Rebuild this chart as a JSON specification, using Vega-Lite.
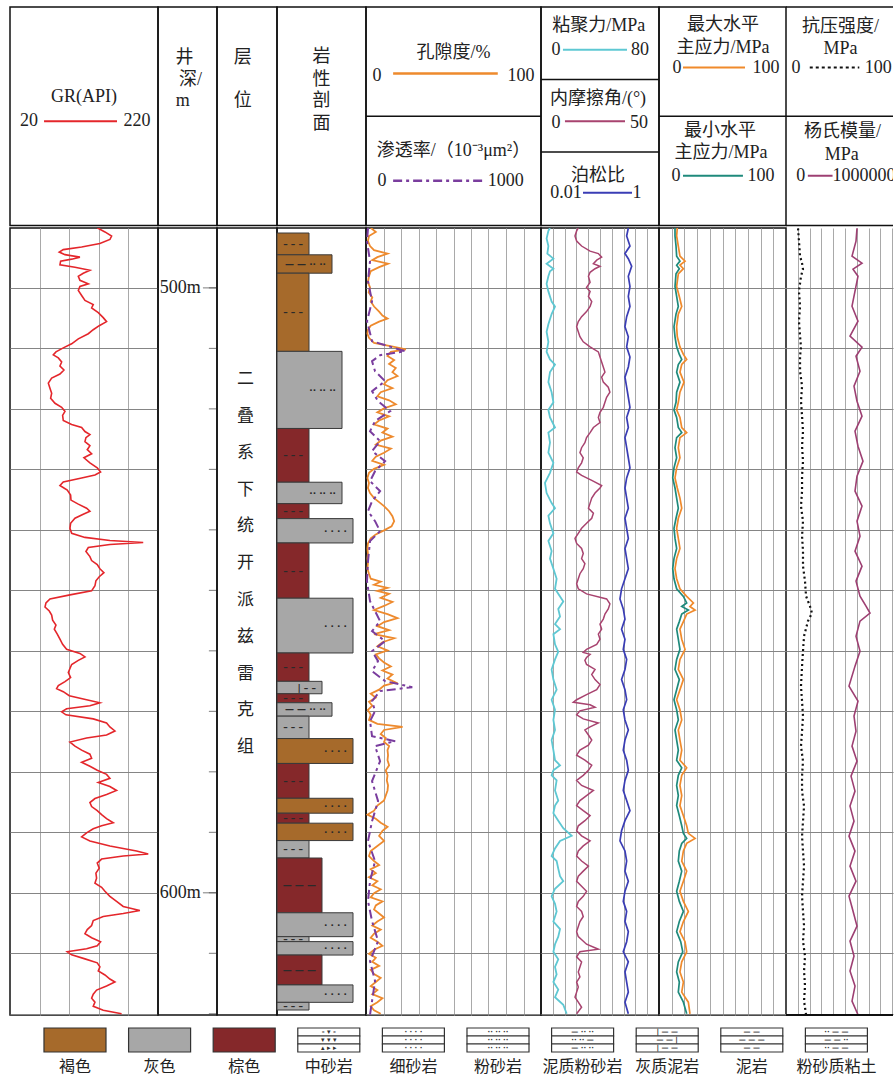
{
"$schema": "https://vega.github.io/schema/vega-lite/v6.json",
"background": "white",
"padding": {"left": 9, "top": 6, "right": 0, "bottom": 3},
"spacing": 0,
"resolve": {"scale": {"color": "independent", "strokeDash": "independent"}},
"config": {
  "font": "Liberation Serif, Noto Sans CJK SC",
  "view": {"stroke": "#111111", "strokeWidth": 1.5},
  "axisX": {"grid": true, "gridColor": "#a9a9a9", "gridWidth": 1, "labels": false, "ticks": false, "domain": false},
  "axisY": {"grid": true, "gridColor": "#858585", "gridWidth": 1, "labels": false, "ticks": false, "domain": false},
  "text": {"font": "Liberation Serif, Noto Sans CJK SC", "fontSize": 18, "color": "#222222"}
},
"datasets": {
  "hdrText": [
    {"col":"gr","text":"GR(API)","x":50,"y":91},
    {"col":"gr","text":"20","x":12.8,"y":115},
    {"col":"gr","text":"220","x":85.8,"y":115},
    {"col":"dep","text":"井","x":45,"y":51},
    {"col":"dep","text":"深/","x":55,"y":73},
    {"col":"dep","text":"m","x":42,"y":95},
    {"col":"zone","text":"层","x":43,"y":51},
    {"col":"zone","text":"位","x":43,"y":95},
    {"col":"lith","text":"岩","x":50,"y":50},
    {"col":"lith","text":"性","x":50,"y":73},
    {"col":"lith","text":"剖","x":50,"y":95},
    {"col":"lith","text":"面","x":50,"y":118},
    {"col":"por","text":"孔隙度/%","x":50,"y":46},
    {"col":"por","text":"0","x":6.3,"y":69},
    {"col":"por","text":"100","x":88.5,"y":69},
    {"col":"por","text":"渗透率/（10⁻³μm²）","x":50,"y":145},
    {"col":"por","text":"0","x":9.2,"y":175},
    {"col":"por","text":"1000","x":79.9,"y":175},
    {"col":"coh","text":"粘聚力/MPa","x":49,"y":19},
    {"col":"coh","text":"0","x":12.7,"y":43},
    {"col":"coh","text":"80","x":83.9,"y":43},
    {"col":"coh","text":"内摩擦角/(°)","x":48.3,"y":93},
    {"col":"coh","text":"0","x":12.7,"y":117},
    {"col":"coh","text":"50","x":83,"y":117},
    {"col":"coh","text":"泊松比","x":48.3,"y":170},
    {"col":"coh","text":"0.01","x":21.2,"y":187},
    {"col":"coh","text":"1","x":81.4,"y":187},
    {"col":"str","text":"最大水平","x":50.4,"y":18},
    {"col":"str","text":"主应力/MPa","x":50.4,"y":41},
    {"col":"str","text":"0","x":14.2,"y":61},
    {"col":"str","text":"100","x":84.3,"y":61},
    {"col":"str","text":"最小水平","x":48,"y":125},
    {"col":"str","text":"主应力/MPa","x":48.8,"y":147},
    {"col":"str","text":"0","x":13.4,"y":170},
    {"col":"str","text":"100","x":80.3,"y":170},
    {"col":"ucs","text":"抗压强度/","x":50.9,"y":20},
    {"col":"ucs","text":"MPa","x":50.9,"y":42},
    {"col":"ucs","text":"0","x":9.3,"y":61},
    {"col":"ucs","text":"100","x":86.1,"y":61},
    {"col":"ucs","text":"杨氏模量/","x":52.8,"y":126},
    {"col":"ucs","text":"MPa","x":52,"y":149},
    {"col":"ucs","text":"0","x":13.9,"y":170},
    {"col":"ucs","text":"1000000","x":72.9,"y":170}
  ],
  "hdrLines": [
    {"col":"gr","curve":"GR","x":23,"x2":72.3,"y":115},
    {"col":"por","curve":"POR","x":15.5,"x2":75.3,"y":67},
    {"col":"por","curve":"PERM","x":15.5,"x2":67.2,"y":175},
    {"col":"coh","curve":"COH","x":18.6,"x2":72.9,"y":43},
    {"col":"coh","curve":"FRIC","x":20.3,"x2":71.2,"y":115},
    {"col":"coh","curve":"PR","x":35.6,"x2":77.1,"y":187},
    {"col":"str","curve":"SHMAX","x":18.9,"x2":67.7,"y":61},
    {"col":"str","curve":"SHMIN","x":18.9,"x2":66.1,"y":170},
    {"col":"ucs","curve":"UCS","x":22.2,"x2":68.5,"y":61},
    {"col":"ucs","curve":"YM","x":20.4,"x2":43.5,"y":170}
  ],
  "hdrDiv": [
    {"col":"por","y":110},{"col":"coh","y":73},{"col":"coh","y":146},{"col":"str","y":110},{"col":"ucs","y":110},{"col":"ucs","y":0},{"col":"ucs","y":220}
  ],
  "depthTicks": [{"depth":500},{"depth":510},{"depth":520},{"depth":530},{"depth":540},{"depth":550},{"depth":560},{"depth":570},{"depth":580},{"depth":590},{"depth":600},{"depth":610},{"depth":620}],
  "depthLabels": [{"depth":500,"label":"500m"},{"depth":600,"label":"600m"}],
  "formation": [{"name":"二\n叠\n系\n下\n统\n开\n派\n兹\n雷\n克\n组"}],
  "lithTypes": [
    {"lith":"泥岩","grain":3.2,"sym":"–  –  –"},
    {"lith":"灰质泥岩","grain":4.5,"sym":"|   –   –"},
    {"lith":"粉砂质粘土","grain":4.5,"sym":"—   —   —"},
    {"lith":"泥质粉砂岩","grain":5.5,"sym":"—  —  ··  ··"},
    {"lith":"粉砂岩","grain":6.5,"sym":"··     ··     ··"},
    {"lith":"细砂岩","grain":7.6,"sym":"·      ·      ·      ·"}
  ],
  "lith": [
    {"top":490.1,"bottom":493.75,"mid":491.93,"color":"褐色","lith":"泥岩"},
    {"top":493.75,"bottom":496.83,"mid":495.29,"color":"褐色","lith":"泥质粉砂岩"},
    {"top":496.83,"bottom":509.92,"mid":503.38,"color":"褐色","lith":"泥岩"},
    {"top":509.92,"bottom":522.83,"mid":516.38,"color":"灰色","lith":"粉砂岩"},
    {"top":522.83,"bottom":531.83,"mid":527.33,"color":"棕色","lith":"泥岩"},
    {"top":531.83,"bottom":535.42,"mid":533.63,"color":"灰色","lith":"粉砂岩"},
    {"top":535.42,"bottom":537.92,"mid":536.67,"color":"棕色","lith":"泥岩"},
    {"top":537.92,"bottom":542.0,"mid":539.96,"color":"灰色","lith":"细砂岩"},
    {"top":542.0,"bottom":551.25,"mid":546.63,"color":"棕色","lith":"泥岩"},
    {"top":551.25,"bottom":560.42,"mid":555.84,"color":"灰色","lith":"细砂岩"},
    {"top":560.42,"bottom":565.17,"mid":562.8,"color":"棕色","lith":"泥岩"},
    {"top":565.17,"bottom":567.25,"mid":566.21,"color":"灰色","lith":"灰质泥岩"},
    {"top":567.25,"bottom":568.75,"mid":568.0,"color":"棕色","lith":"泥岩"},
    {"top":568.75,"bottom":571.0,"mid":569.88,"color":"灰色","lith":"泥质粉砂岩"},
    {"top":571.0,"bottom":574.75,"mid":572.88,"color":"灰色","lith":"泥岩"},
    {"top":574.75,"bottom":578.92,"mid":576.84,"color":"褐色","lith":"细砂岩"},
    {"top":578.92,"bottom":584.75,"mid":581.84,"color":"棕色","lith":"泥岩"},
    {"top":584.75,"bottom":587.25,"mid":586.0,"color":"褐色","lith":"细砂岩"},
    {"top":587.25,"bottom":588.92,"mid":588.09,"color":"棕色","lith":"泥岩"},
    {"top":588.92,"bottom":591.83,"mid":590.38,"color":"褐色","lith":"细砂岩"},
    {"top":591.83,"bottom":594.75,"mid":593.29,"color":"灰色","lith":"泥岩"},
    {"top":594.75,"bottom":603.92,"mid":599.34,"color":"棕色","lith":"粉砂质粘土"},
    {"top":603.92,"bottom":607.92,"mid":605.92,"color":"灰色","lith":"细砂岩"},
    {"top":607.92,"bottom":608.75,"mid":608.34,"color":"灰色","lith":"泥岩"},
    {"top":608.75,"bottom":611.0,"mid":609.88,"color":"灰色","lith":"细砂岩"},
    {"top":611.0,"bottom":616.0,"mid":613.5,"color":"棕色","lith":"粉砂质粘土"},
    {"top":616.0,"bottom":618.92,"mid":617.46,"color":"灰色","lith":"细砂岩"},
    {"top":618.92,"bottom":620.2,"mid":619.56,"color":"灰色","lith":"泥岩"}
  ],
  "gr": [
    {"depth":490.08,"value":137.9},{"depth":490.75,"value":148.3},{"depth":491.42,"value":157.3},{"depth":492.0,"value":155},{"depth":492.67,"value":141.5},{"depth":493.25,"value":116.8},{"depth":493.67,"value":92},{"depth":494.08,"value":86.6},{"depth":494.5,"value":94.3},{"depth":494.92,"value":114.5},{"depth":495.25,"value":103.3},{"depth":495.58,"value":88.4},{"depth":496.17,"value":87.5},{"depth":496.58,"value":107.8},{"depth":497.08,"value":128},{"depth":497.58,"value":119},{"depth":498.08,"value":112.3},{"depth":498.75,"value":114.5},{"depth":499.33,"value":125.8},{"depth":499.75,"value":114.5},{"depth":500.42,"value":112.3},{"depth":501.25,"value":116.8},{"depth":502.08,"value":121.3},{"depth":502.75,"value":132.5},{"depth":503.33,"value":130.3},{"depth":504.08,"value":139.3},{"depth":504.92,"value":146},{"depth":505.58,"value":150.5},{"depth":506.25,"value":140.6},{"depth":506.92,"value":132.5},{"depth":507.58,"value":125.8},{"depth":508.42,"value":112.3},{"depth":509.25,"value":103.3},{"depth":509.92,"value":92},{"depth":510.58,"value":82.1},{"depth":511.08,"value":78.5},{"depth":511.58,"value":85.3},{"depth":512.25,"value":89.8},{"depth":512.92,"value":87.5},{"depth":513.58,"value":92.9},{"depth":514.25,"value":87.5},{"depth":514.92,"value":76.3},{"depth":515.75,"value":71.8},{"depth":516.58,"value":74},{"depth":517.42,"value":76.3},{"depth":518.25,"value":74.9},{"depth":519.08,"value":80.8},{"depth":519.75,"value":89.8},{"depth":520.42,"value":94.3},{"depth":521.08,"value":91.1},{"depth":521.92,"value":92},{"depth":522.58,"value":103.3},{"depth":523.08,"value":116.8},{"depth":523.75,"value":121.3},{"depth":524.25,"value":128},{"depth":524.75,"value":122.6},{"depth":525.42,"value":121.3},{"depth":526.08,"value":128},{"depth":526.75,"value":124.4},{"depth":527.42,"value":130.3},{"depth":528.08,"value":119.9},{"depth":528.92,"value":128},{"depth":529.75,"value":137.9},{"depth":530.42,"value":142.4},{"depth":530.92,"value":134.8},{"depth":531.42,"value":116.8},{"depth":532.08,"value":92},{"depth":532.67,"value":87.5},{"depth":533.42,"value":97.4},{"depth":534.25,"value":101.9},{"depth":535.08,"value":102.4},{"depth":535.75,"value":112.3},{"depth":536.42,"value":123.5},{"depth":536.92,"value":128},{"depth":537.42,"value":119},{"depth":538.08,"value":107.8},{"depth":538.92,"value":101.9},{"depth":539.75,"value":101},{"depth":540.58,"value":103.3},{"depth":541.25,"value":121.3},{"depth":541.75,"value":155},{"depth":542.08,"value":200},{"depth":542.42,"value":155},{"depth":542.92,"value":125.8},{"depth":543.58,"value":122.6},{"depth":544.42,"value":128},{"depth":545.08,"value":130.3},{"depth":545.75,"value":137.9},{"depth":546.42,"value":141.5},{"depth":547.08,"value":146.9},{"depth":547.75,"value":140.6},{"depth":548.42,"value":136.1},{"depth":549.25,"value":134.8},{"depth":550.08,"value":130.3},{"depth":550.75,"value":101},{"depth":551.42,"value":74},{"depth":552.08,"value":68.6},{"depth":552.75,"value":67.3},{"depth":553.42,"value":73.1},{"depth":554.08,"value":76.3},{"depth":554.92,"value":77.6},{"depth":555.75,"value":82.1},{"depth":556.42,"value":79.9},{"depth":557.25,"value":83.9},{"depth":558.08,"value":87.5},{"depth":558.92,"value":91.1},{"depth":559.75,"value":96.5},{"depth":560.42,"value":114.5},{"depth":561.0,"value":121.3},{"depth":561.58,"value":112.3},{"depth":562.25,"value":103.3},{"depth":562.92,"value":101},{"depth":563.58,"value":98.8},{"depth":564.42,"value":101.9},{"depth":565.08,"value":94.3},{"depth":565.75,"value":85.3},{"depth":566.25,"value":83},{"depth":566.75,"value":92},{"depth":567.42,"value":100.1},{"depth":568.08,"value":123.5},{"depth":568.58,"value":141.5},{"depth":569.08,"value":128},{"depth":569.58,"value":96.5},{"depth":570.08,"value":89.8},{"depth":570.58,"value":95.6},{"depth":571.25,"value":132.5},{"depth":571.92,"value":150.5},{"depth":572.58,"value":155},{"depth":573.25,"value":161.8},{"depth":573.92,"value":150.5},{"depth":574.42,"value":123.5},{"depth":575.08,"value":101},{"depth":575.75,"value":107.8},{"depth":576.42,"value":116.8},{"depth":577.08,"value":128},{"depth":577.75,"value":130.3},{"depth":578.42,"value":116.8},{"depth":579.08,"value":128},{"depth":579.75,"value":137.9},{"depth":580.42,"value":150.5},{"depth":581.08,"value":155},{"depth":581.75,"value":139.3},{"depth":582.42,"value":155},{"depth":583.08,"value":164},{"depth":583.75,"value":150.5},{"depth":584.42,"value":134.8},{"depth":585.08,"value":128},{"depth":585.75,"value":130.3},{"depth":586.42,"value":137.9},{"depth":587.08,"value":143.8},{"depth":587.75,"value":150.5},{"depth":588.42,"value":159.5},{"depth":588.92,"value":143.8},{"depth":589.42,"value":132.5},{"depth":590.08,"value":123.5},{"depth":590.75,"value":116.8},{"depth":591.42,"value":128},{"depth":592.25,"value":155},{"depth":593.08,"value":191},{"depth":593.58,"value":206.8},{"depth":593.92,"value":173},{"depth":594.42,"value":143.8},{"depth":595.08,"value":137.9},{"depth":595.92,"value":140.6},{"depth":596.75,"value":136.1},{"depth":597.58,"value":137},{"depth":598.42,"value":134.8},{"depth":599.08,"value":143.8},{"depth":599.75,"value":148.3},{"depth":600.58,"value":155},{"depth":601.42,"value":164},{"depth":602.25,"value":173},{"depth":602.92,"value":195.5},{"depth":603.42,"value":173},{"depth":603.92,"value":146},{"depth":604.58,"value":132.5},{"depth":605.42,"value":130.3},{"depth":606.08,"value":124.4},{"depth":606.75,"value":121.3},{"depth":607.42,"value":130.3},{"depth":608.08,"value":142.4},{"depth":608.75,"value":137.9},{"depth":609.25,"value":123.5},{"depth":609.75,"value":97.4},{"depth":610.25,"value":103.3},{"depth":610.92,"value":121.3},{"depth":611.58,"value":137.9},{"depth":612.25,"value":141.5},{"depth":612.92,"value":139.3},{"depth":613.58,"value":148.3},{"depth":614.25,"value":155},{"depth":614.75,"value":161.8},{"depth":615.42,"value":150.5},{"depth":616.08,"value":137},{"depth":616.75,"value":132.5},{"depth":617.42,"value":130.3},{"depth":618.08,"value":134.8},{"depth":618.75,"value":132.5},{"depth":619.42,"value":146},{"depth":620.0,"value":170.8}
  ],
  "por": [
    {"depth":490.08,"value":2.7},{"depth":490.75,"value":5.6},{"depth":491.42,"value":1.7},{"depth":492.25,"value":1.1},{"depth":493.08,"value":2.3},{"depth":493.75,"value":4.6},{"depth":494.33,"value":12.3},{"depth":494.92,"value":6.5},{"depth":495.42,"value":3.6},{"depth":496.0,"value":12.6},{"depth":496.58,"value":7.5},{"depth":497.25,"value":2.7},{"depth":498.08,"value":1.7},{"depth":499.08,"value":1.1},{"depth":499.92,"value":2.3},{"depth":500.75,"value":1.5},{"depth":501.58,"value":3.6},{"depth":502.25,"value":2.7},{"depth":503.08,"value":4.6},{"depth":503.92,"value":7.5},{"depth":504.58,"value":9.4},{"depth":505.08,"value":12.3},{"depth":505.58,"value":7.5},{"depth":506.25,"value":2.7},{"depth":506.92,"value":1.1},{"depth":507.58,"value":0.8},{"depth":508.25,"value":1.7},{"depth":509.08,"value":4.6},{"depth":509.75,"value":16.1},{"depth":510.17,"value":22.8},{"depth":510.58,"value":14.2},{"depth":511.25,"value":12.3},{"depth":511.92,"value":16.1},{"depth":512.58,"value":13.2},{"depth":513.25,"value":17.0},{"depth":513.92,"value":15.1},{"depth":514.58,"value":18.0},{"depth":515.25,"value":12.3},{"depth":515.92,"value":10.3},{"depth":516.58,"value":15.1},{"depth":517.25,"value":8.4},{"depth":517.92,"value":6.5},{"depth":518.58,"value":13.2},{"depth":519.25,"value":17.0},{"depth":519.92,"value":10.3},{"depth":520.58,"value":6.5},{"depth":521.25,"value":13.2},{"depth":521.92,"value":7.5},{"depth":522.58,"value":4.6},{"depth":523.25,"value":12.3},{"depth":523.92,"value":9.4},{"depth":524.58,"value":15.1},{"depth":525.25,"value":8.4},{"depth":525.92,"value":5.6},{"depth":526.58,"value":14.2},{"depth":527.25,"value":10.3},{"depth":527.92,"value":5.6},{"depth":528.58,"value":3.6},{"depth":529.25,"value":10.3},{"depth":529.92,"value":4.6},{"depth":530.58,"value":1.7},{"depth":531.42,"value":0.8},{"depth":532.25,"value":1.7},{"depth":533.08,"value":1.1},{"depth":533.92,"value":2.3},{"depth":534.75,"value":4.6},{"depth":535.42,"value":7.5},{"depth":536.08,"value":10.3},{"depth":536.92,"value":13.2},{"depth":537.75,"value":15.1},{"depth":538.58,"value":16.1},{"depth":539.42,"value":14.6},{"depth":540.08,"value":10.3},{"depth":540.75,"value":5.6},{"depth":541.42,"value":2.7},{"depth":542.25,"value":1.1},{"depth":543.08,"value":0.8},{"depth":543.92,"value":1.1},{"depth":544.75,"value":0.8},{"depth":545.58,"value":1.1},{"depth":546.42,"value":0.8},{"depth":547.25,"value":1.7},{"depth":548.08,"value":2.7},{"depth":548.58,"value":8.4},{"depth":549.08,"value":4.6},{"depth":549.58,"value":12.3},{"depth":550.08,"value":6.5},{"depth":550.58,"value":13.2},{"depth":551.25,"value":8.4},{"depth":551.92,"value":15.1},{"depth":552.58,"value":10.3},{"depth":553.25,"value":4.6},{"depth":553.92,"value":12.3},{"depth":554.58,"value":18.0},{"depth":555.25,"value":10.3},{"depth":555.92,"value":6.5},{"depth":556.58,"value":13.2},{"depth":557.25,"value":4.6},{"depth":557.92,"value":16.1},{"depth":558.58,"value":9.4},{"depth":559.25,"value":6.5},{"depth":559.92,"value":12.3},{"depth":560.58,"value":5.6},{"depth":561.25,"value":7.5},{"depth":561.92,"value":10.3},{"depth":562.58,"value":14.2},{"depth":563.25,"value":9.4},{"depth":563.92,"value":15.1},{"depth":564.58,"value":12.3},{"depth":565.25,"value":17.0},{"depth":565.75,"value":10.3},{"depth":566.42,"value":7.5},{"depth":567.08,"value":2.7},{"depth":567.75,"value":5.6},{"depth":568.42,"value":1.7},{"depth":569.08,"value":3.6},{"depth":569.75,"value":1.1},{"depth":570.58,"value":2.7},{"depth":571.42,"value":1.7},{"depth":572.08,"value":6.5},{"depth":572.58,"value":20.9},{"depth":573.08,"value":10.3},{"depth":573.75,"value":8.4},{"depth":574.42,"value":11.3},{"depth":575.08,"value":10.3},{"depth":575.75,"value":13.2},{"depth":576.42,"value":12.3},{"depth":577.25,"value":12.6},{"depth":578.08,"value":12.3},{"depth":578.92,"value":13.2},{"depth":579.75,"value":11.3},{"depth":580.58,"value":12.3},{"depth":581.42,"value":11.9},{"depth":582.25,"value":12.6},{"depth":583.08,"value":12.3},{"depth":583.92,"value":11.3},{"depth":584.75,"value":10.3},{"depth":585.58,"value":6.5},{"depth":586.42,"value":4.6},{"depth":587.08,"value":0.8},{"depth":587.75,"value":5.6},{"depth":588.42,"value":8.4},{"depth":589.08,"value":12.3},{"depth":589.75,"value":9.4},{"depth":590.58,"value":7.5},{"depth":591.42,"value":10.3},{"depth":592.25,"value":6.5},{"depth":593.08,"value":2.7},{"depth":593.92,"value":1.7},{"depth":594.75,"value":4.6},{"depth":595.42,"value":7.5},{"depth":596.08,"value":2.7},{"depth":596.75,"value":5.6},{"depth":597.42,"value":1.7},{"depth":598.08,"value":6.5},{"depth":598.75,"value":3.6},{"depth":599.42,"value":8.4},{"depth":600.08,"value":4.6},{"depth":600.75,"value":2.7},{"depth":601.42,"value":9.4},{"depth":602.08,"value":5.6},{"depth":602.75,"value":4.6},{"depth":603.42,"value":7.5},{"depth":604.08,"value":10.3},{"depth":604.75,"value":6.5},{"depth":605.42,"value":3.6},{"depth":606.08,"value":8.4},{"depth":606.75,"value":4.6},{"depth":607.42,"value":2.7},{"depth":608.08,"value":6.5},{"depth":608.75,"value":9.4},{"depth":609.42,"value":4.6},{"depth":610.08,"value":1.7},{"depth":610.75,"value":5.6},{"depth":611.42,"value":3.6},{"depth":612.08,"value":7.5},{"depth":612.75,"value":2.7},{"depth":613.42,"value":4.6},{"depth":614.08,"value":8.4},{"depth":614.75,"value":5.6},{"depth":615.42,"value":2.7},{"depth":616.08,"value":6.5},{"depth":616.75,"value":3.6},{"depth":617.42,"value":9.4},{"depth":618.08,"value":6.5},{"depth":618.75,"value":2.7},{"depth":619.42,"value":4.6},{"depth":620.0,"value":8.4}
  ],
  "perm": [
    {"depth":490.13,"value":11.5},{"depth":492.28,"value":5.7},{"depth":495.59,"value":23},{"depth":498.89,"value":11.5},{"depth":502.2,"value":34.5},{"depth":505.5,"value":5.7},{"depth":508.81,"value":34.5},{"depth":509.97,"value":166.7},{"depth":510.46,"value":224.1},{"depth":511.12,"value":80.5},{"depth":512.12,"value":34.5},{"depth":513.77,"value":51.7},{"depth":515.42,"value":109.2},{"depth":517.07,"value":34.5},{"depth":518.73,"value":69},{"depth":520.38,"value":137.9},{"depth":522.03,"value":51.7},{"depth":523.69,"value":23},{"depth":525.34,"value":80.5},{"depth":526.99,"value":34.5},{"depth":528.64,"value":109.2},{"depth":530.3,"value":51.7},{"depth":531.95,"value":23},{"depth":533.6,"value":80.5},{"depth":535.26,"value":34.5},{"depth":536.91,"value":11.5},{"depth":538.56,"value":51.7},{"depth":540.21,"value":80.5},{"depth":541.87,"value":23},{"depth":545.17,"value":11.5},{"depth":548.48,"value":5.7},{"depth":551.79,"value":23},{"depth":553.44,"value":51.7},{"depth":555.09,"value":80.5},{"depth":556.74,"value":34.5},{"depth":558.4,"value":109.2},{"depth":560.05,"value":34.5},{"depth":561.7,"value":69},{"depth":563.36,"value":34.5},{"depth":565.01,"value":109.2},{"depth":566.0,"value":264.4},{"depth":566.66,"value":80.5},{"depth":568.31,"value":34.5},{"depth":569.97,"value":51.7},{"depth":571.62,"value":23},{"depth":574.1,"value":34.5},{"depth":574.93,"value":166.7},{"depth":575.75,"value":51.7},{"depth":578.23,"value":80.5},{"depth":581.54,"value":34.5},{"depth":584.84,"value":69},{"depth":588.15,"value":34.5},{"depth":591.45,"value":11.5},{"depth":594.76,"value":51.7},{"depth":598.07,"value":23},{"depth":601.37,"value":11.5},{"depth":604.68,"value":34.5},{"depth":607.98,"value":69},{"depth":611.29,"value":23},{"depth":614.6,"value":51.7},{"depth":617.9,"value":34.5},{"depth":620.15,"value":23}
  ],
  "coh": [
    {"depth":490.1,"value":6.1},{"depth":490.58,"value":5.0},{"depth":491.83,"value":3.8},{"depth":493.08,"value":5.0},{"depth":494.33,"value":4.3},{"depth":495.17,"value":8.4},{"depth":496.0,"value":3.8},{"depth":496.83,"value":8.4},{"depth":497.25,"value":6.1},{"depth":498.08,"value":5.0},{"depth":499.33,"value":3.8},{"depth":500.58,"value":5.0},{"depth":502.25,"value":7.2},{"depth":503.08,"value":9.5},{"depth":504.33,"value":7.2},{"depth":506.0,"value":5.0},{"depth":507.25,"value":3.8},{"depth":508.92,"value":5.0},{"depth":510.58,"value":3.8},{"depth":511.83,"value":6.1},{"depth":512.67,"value":9.5},{"depth":513.92,"value":6.1},{"depth":515.58,"value":5.0},{"depth":517.25,"value":7.2},{"depth":518.92,"value":8.4},{"depth":520.17,"value":5.0},{"depth":521.42,"value":6.1},{"depth":523.08,"value":9.5},{"depth":523.92,"value":5.0},{"depth":525.58,"value":6.1},{"depth":527.25,"value":5.0},{"depth":528.92,"value":8.4},{"depth":530.58,"value":6.1},{"depth":532.25,"value":2.7},{"depth":533.92,"value":3.8},{"depth":535.58,"value":7.2},{"depth":536.42,"value":9.5},{"depth":537.67,"value":5.0},{"depth":538.92,"value":6.1},{"depth":540.58,"value":8.4},{"depth":541.83,"value":5.0},{"depth":543.5,"value":7.2},{"depth":544.75,"value":6.1},{"depth":546.42,"value":8.4},{"depth":548.08,"value":10.6},{"depth":549.75,"value":9.5},{"depth":551.0,"value":12.9},{"depth":551.83,"value":15.1},{"depth":553.08,"value":11.7},{"depth":554.33,"value":12.9},{"depth":555.58,"value":9.5},{"depth":556.42,"value":12.9},{"depth":557.25,"value":8.4},{"depth":558.92,"value":9.5},{"depth":560.17,"value":11.7},{"depth":561.42,"value":9.5},{"depth":563.08,"value":7.2},{"depth":564.75,"value":8.4},{"depth":566.42,"value":10.6},{"depth":568.08,"value":7.2},{"depth":569.75,"value":9.5},{"depth":571.42,"value":8.4},{"depth":573.08,"value":9.5},{"depth":574.75,"value":7.2},{"depth":576.42,"value":8.4},{"depth":578.08,"value":9.5},{"depth":578.92,"value":12.9},{"depth":579.75,"value":8.4},{"depth":580.58,"value":7.2},{"depth":581.42,"value":10.6},{"depth":583.08,"value":9.5},{"depth":584.75,"value":11.7},{"depth":585.58,"value":9.5},{"depth":586.83,"value":8.4},{"depth":588.08,"value":11.7},{"depth":589.33,"value":15.1},{"depth":590.58,"value":20.8},{"depth":591.42,"value":12.9},{"depth":592.67,"value":9.5},{"depth":593.92,"value":7.2},{"depth":594.75,"value":10.6},{"depth":596.0,"value":11.7},{"depth":597.25,"value":12.9},{"depth":598.08,"value":15.1},{"depth":599.33,"value":9.5},{"depth":600.58,"value":7.2},{"depth":601.83,"value":9.5},{"depth":603.08,"value":10.6},{"depth":604.75,"value":8.4},{"depth":606.0,"value":12.9},{"depth":607.25,"value":11.7},{"depth":608.5,"value":9.5},{"depth":609.75,"value":8.4},{"depth":611.0,"value":11.7},{"depth":612.25,"value":9.5},{"depth":613.5,"value":10.6},{"depth":614.75,"value":8.4},{"depth":616.0,"value":11.7},{"depth":617.25,"value":9.5},{"depth":618.5,"value":15.1},{"depth":620.0,"value":17.4}
  ],
  "fric": [
    {"depth":490.1,"value":15.8},{"depth":490.58,"value":15.1},{"depth":491.42,"value":14.4},{"depth":492.25,"value":15.1},{"depth":493.08,"value":17.2},{"depth":493.92,"value":20.8},{"depth":494.33,"value":24.3},{"depth":494.92,"value":25.7},{"depth":495.42,"value":23.6},{"depth":496.0,"value":22.2},{"depth":496.42,"value":25.0},{"depth":496.83,"value":22.9},{"depth":497.42,"value":20.8},{"depth":498.08,"value":20.1},{"depth":499.08,"value":20.8},{"depth":499.92,"value":19.3},{"depth":500.58,"value":20.8},{"depth":501.42,"value":20.1},{"depth":502.25,"value":21.5},{"depth":503.08,"value":20.8},{"depth":503.92,"value":19.3},{"depth":504.75,"value":17.2},{"depth":505.58,"value":15.8},{"depth":506.42,"value":15.1},{"depth":507.25,"value":15.8},{"depth":508.08,"value":16.5},{"depth":508.92,"value":17.9},{"depth":509.75,"value":20.8},{"depth":510.58,"value":24.3},{"depth":511.42,"value":25.0},{"depth":512.25,"value":25.7},{"depth":513.08,"value":26.4},{"depth":513.92,"value":27.1},{"depth":514.75,"value":25.7},{"depth":515.58,"value":26.4},{"depth":516.42,"value":28.5},{"depth":517.25,"value":29.2},{"depth":518.08,"value":27.8},{"depth":518.92,"value":27.1},{"depth":519.75,"value":26.4},{"depth":520.58,"value":25.0},{"depth":521.42,"value":24.3},{"depth":522.25,"value":25.0},{"depth":523.08,"value":22.2},{"depth":523.92,"value":20.8},{"depth":524.75,"value":19.3},{"depth":525.58,"value":18.6},{"depth":526.42,"value":17.2},{"depth":527.25,"value":16.5},{"depth":528.08,"value":17.9},{"depth":528.92,"value":17.2},{"depth":529.75,"value":15.8},{"depth":530.42,"value":15.1},{"depth":531.0,"value":17.2},{"depth":531.83,"value":21.5},{"depth":532.67,"value":25.7},{"depth":533.08,"value":25.0},{"depth":533.92,"value":22.9},{"depth":534.75,"value":21.5},{"depth":535.58,"value":20.8},{"depth":536.42,"value":20.1},{"depth":537.25,"value":22.2},{"depth":538.08,"value":21.5},{"depth":538.92,"value":19.3},{"depth":539.75,"value":17.2},{"depth":540.58,"value":15.8},{"depth":541.42,"value":14.4},{"depth":542.25,"value":15.1},{"depth":543.08,"value":17.2},{"depth":543.92,"value":17.9},{"depth":544.75,"value":17.2},{"depth":545.58,"value":18.6},{"depth":546.42,"value":17.9},{"depth":547.25,"value":16.5},{"depth":548.08,"value":15.8},{"depth":548.92,"value":15.1},{"depth":549.75,"value":15.8},{"depth":550.58,"value":19.3},{"depth":551.42,"value":27.8},{"depth":552.25,"value":29.2},{"depth":553.08,"value":28.5},{"depth":553.92,"value":27.1},{"depth":554.75,"value":26.4},{"depth":555.58,"value":25.0},{"depth":556.42,"value":25.7},{"depth":557.25,"value":24.3},{"depth":558.08,"value":25.0},{"depth":558.92,"value":23.6},{"depth":559.75,"value":19.3},{"depth":560.25,"value":17.9},{"depth":560.58,"value":20.8},{"depth":561.08,"value":19.3},{"depth":561.58,"value":18.6},{"depth":562.25,"value":19.3},{"depth":563.08,"value":22.9},{"depth":563.92,"value":21.5},{"depth":564.75,"value":22.9},{"depth":565.58,"value":25.0},{"depth":566.42,"value":23.6},{"depth":567.25,"value":19.3},{"depth":568.08,"value":15.1},{"depth":568.5,"value":13.7},{"depth":568.92,"value":20.8},{"depth":569.33,"value":22.9},{"depth":569.92,"value":16.5},{"depth":570.58,"value":15.1},{"depth":571.25,"value":17.9},{"depth":571.92,"value":24.3},{"depth":572.58,"value":20.8},{"depth":573.08,"value":18.6},{"depth":573.92,"value":20.1},{"depth":574.75,"value":21.5},{"depth":575.58,"value":20.1},{"depth":576.42,"value":16.5},{"depth":577.25,"value":15.1},{"depth":578.08,"value":18.6},{"depth":578.92,"value":21.5},{"depth":579.75,"value":20.1},{"depth":580.58,"value":17.9},{"depth":581.42,"value":15.1},{"depth":582.25,"value":17.2},{"depth":583.08,"value":22.2},{"depth":583.92,"value":19.3},{"depth":584.75,"value":16.5},{"depth":585.58,"value":15.1},{"depth":586.42,"value":17.9},{"depth":587.25,"value":20.8},{"depth":588.08,"value":18.6},{"depth":588.92,"value":15.8},{"depth":589.75,"value":15.1},{"depth":590.58,"value":17.2},{"depth":591.42,"value":20.8},{"depth":592.25,"value":17.9},{"depth":593.08,"value":15.8},{"depth":593.92,"value":15.1},{"depth":594.75,"value":17.2},{"depth":595.58,"value":20.1},{"depth":596.42,"value":17.9},{"depth":597.25,"value":15.8},{"depth":598.08,"value":15.1},{"depth":598.92,"value":17.2},{"depth":599.75,"value":19.3},{"depth":600.58,"value":17.9},{"depth":601.42,"value":15.8},{"depth":602.25,"value":15.1},{"depth":603.08,"value":17.2},{"depth":603.92,"value":17.9},{"depth":604.75,"value":16.5},{"depth":605.58,"value":15.8},{"depth":606.42,"value":15.1},{"depth":607.25,"value":15.8},{"depth":608.5,"value":19.3},{"depth":609.33,"value":24.3},{"depth":609.75,"value":16.5},{"depth":610.58,"value":15.1},{"depth":611.42,"value":17.2},{"depth":612.25,"value":16.5},{"depth":613.08,"value":15.8},{"depth":613.92,"value":16.5},{"depth":614.75,"value":15.1},{"depth":615.58,"value":15.8},{"depth":616.42,"value":15.1},{"depth":617.25,"value":14.4},{"depth":618.08,"value":15.8},{"depth":618.92,"value":17.2},{"depth":620.0,"value":15.1}
  ],
  "pr": [
    {"depth":490.1,"value":0.302},{"depth":491.42,"value":0.283},{"depth":493.08,"value":0.322},{"depth":494.33,"value":0.265},{"depth":495.17,"value":0.302},{"depth":496.42,"value":0.344},{"depth":498.08,"value":0.302},{"depth":499.75,"value":0.322},{"depth":501.42,"value":0.302},{"depth":503.08,"value":0.322},{"depth":504.75,"value":0.283},{"depth":506.42,"value":0.265},{"depth":508.08,"value":0.302},{"depth":509.75,"value":0.283},{"depth":511.42,"value":0.322},{"depth":513.08,"value":0.302},{"depth":514.75,"value":0.265},{"depth":516.42,"value":0.283},{"depth":518.08,"value":0.302},{"depth":519.75,"value":0.322},{"depth":521.42,"value":0.283},{"depth":523.08,"value":0.302},{"depth":524.75,"value":0.265},{"depth":526.42,"value":0.283},{"depth":528.08,"value":0.302},{"depth":529.75,"value":0.322},{"depth":531.42,"value":0.283},{"depth":533.08,"value":0.265},{"depth":534.75,"value":0.283},{"depth":536.42,"value":0.302},{"depth":538.08,"value":0.265},{"depth":539.75,"value":0.283},{"depth":541.42,"value":0.302},{"depth":543.08,"value":0.265},{"depth":544.75,"value":0.283},{"depth":546.42,"value":0.302},{"depth":548.08,"value":0.265},{"depth":549.75,"value":0.232},{"depth":551.42,"value":0.218},{"depth":553.08,"value":0.248},{"depth":554.75,"value":0.265},{"depth":556.42,"value":0.232},{"depth":558.08,"value":0.265},{"depth":559.75,"value":0.248},{"depth":561.42,"value":0.283},{"depth":563.08,"value":0.265},{"depth":564.75,"value":0.232},{"depth":566.42,"value":0.265},{"depth":568.08,"value":0.283},{"depth":569.75,"value":0.248},{"depth":571.42,"value":0.265},{"depth":573.08,"value":0.302},{"depth":574.75,"value":0.265},{"depth":576.42,"value":0.248},{"depth":578.08,"value":0.283},{"depth":579.75,"value":0.302},{"depth":581.42,"value":0.265},{"depth":583.08,"value":0.248},{"depth":584.75,"value":0.283},{"depth":586.42,"value":0.322},{"depth":588.08,"value":0.265},{"depth":589.75,"value":0.232},{"depth":591.42,"value":0.218},{"depth":593.08,"value":0.265},{"depth":594.75,"value":0.283},{"depth":596.42,"value":0.265},{"depth":598.08,"value":0.302},{"depth":599.75,"value":0.265},{"depth":601.42,"value":0.248},{"depth":603.08,"value":0.283},{"depth":604.75,"value":0.265},{"depth":606.42,"value":0.302},{"depth":608.08,"value":0.283},{"depth":609.75,"value":0.248},{"depth":611.42,"value":0.302},{"depth":613.08,"value":0.265},{"depth":614.75,"value":0.283},{"depth":616.42,"value":0.302},{"depth":618.08,"value":0.265},{"depth":620.0,"value":0.302}
  ],
  "stress": [
    {"depth":490.1,"max":14.4,"min":12.6},{"depth":491.42,"max":13.9,"min":12.6},{"depth":493.08,"max":15.2,"min":13.4},{"depth":494.75,"max":16.5,"min":13.9},{"depth":495.58,"max":20.5,"min":16.5},{"depth":496.25,"max":16.5,"min":13.9},{"depth":496.83,"max":19.2,"min":16.0},{"depth":497.67,"max":15.2,"min":13.4},{"depth":499.75,"max":13.9,"min":12.6},{"depth":501.42,"max":16.0,"min":13.9},{"depth":503.08,"max":17.9,"min":15.2},{"depth":504.33,"max":15.2,"min":13.4},{"depth":506.42,"max":13.9,"min":11.8},{"depth":508.08,"max":14.4,"min":12.6},{"depth":509.75,"max":16.5,"min":13.9},{"depth":511.0,"max":19.2,"min":16.0},{"depth":511.83,"max":21.8,"min":17.9},{"depth":512.67,"max":17.9,"min":15.2},{"depth":513.92,"max":16.5,"min":13.9},{"depth":515.58,"max":19.7,"min":16.5},{"depth":517.25,"max":16.5,"min":13.9},{"depth":518.92,"max":15.2,"min":13.4},{"depth":520.17,"max":13.9,"min":11.8},{"depth":521.42,"max":16.5,"min":13.9},{"depth":523.08,"max":17.9,"min":15.2},{"depth":523.92,"max":21.8,"min":17.9},{"depth":524.75,"max":16.5,"min":13.9},{"depth":526.42,"max":15.2,"min":12.6},{"depth":528.08,"max":16.5,"min":13.9},{"depth":529.75,"max":13.9,"min":11.8},{"depth":531.42,"max":12.6,"min":10.8},{"depth":533.08,"max":14.4,"min":12.6},{"depth":534.75,"max":16.5,"min":13.9},{"depth":536.42,"max":17.9,"min":15.2},{"depth":538.08,"max":15.2,"min":13.4},{"depth":539.75,"max":13.9,"min":11.8},{"depth":541.42,"max":15.2,"min":12.6},{"depth":543.08,"max":16.5,"min":13.9},{"depth":544.75,"max":13.9,"min":11.8},{"depth":546.42,"max":12.6,"min":10.8},{"depth":548.08,"max":13.9,"min":11.8},{"depth":549.75,"max":16.5,"min":13.9},{"depth":551.0,"max":21.8,"min":19.2},{"depth":552.08,"max":27.1,"min":21.8},{"depth":552.67,"max":24.4,"min":17.9},{"depth":553.25,"max":28.4,"min":23.1},{"depth":553.92,"max":21.8,"min":17.9},{"depth":555.17,"max":19.2,"min":16.0},{"depth":556.42,"max":16.5,"min":13.9},{"depth":558.08,"max":17.9,"min":15.2},{"depth":559.75,"max":20.5,"min":16.5},{"depth":561.42,"max":16.5,"min":13.9},{"depth":563.08,"max":15.2,"min":12.6},{"depth":564.75,"max":19.2,"min":16.0},{"depth":566.42,"max":16.5,"min":13.9},{"depth":568.08,"max":13.9,"min":11.8},{"depth":569.75,"max":16.5,"min":13.9},{"depth":571.42,"max":17.9,"min":15.2},{"depth":573.08,"max":15.2,"min":12.6},{"depth":574.75,"max":16.5,"min":13.9},{"depth":576.42,"max":17.9,"min":15.2},{"depth":578.08,"max":16.5,"min":13.9},{"depth":579.33,"max":21.8,"min":17.9},{"depth":580.58,"max":17.9,"min":15.2},{"depth":582.25,"max":16.5,"min":13.9},{"depth":583.92,"max":17.9,"min":15.2},{"depth":585.58,"max":16.5,"min":13.9},{"depth":587.25,"max":19.2,"min":16.0},{"depth":588.92,"max":21.8,"min":17.9},{"depth":590.17,"max":23.1,"min":19.2},{"depth":591.0,"max":28.4,"min":21.8},{"depth":591.83,"max":21.8,"min":17.9},{"depth":593.08,"max":19.2,"min":16.0},{"depth":594.75,"max":17.9,"min":15.2},{"depth":596.42,"max":21.8,"min":17.9},{"depth":598.08,"max":19.2,"min":16.0},{"depth":599.75,"max":16.5,"min":13.9},{"depth":601.42,"max":19.2,"min":16.0},{"depth":603.08,"max":23.1,"min":19.2},{"depth":604.75,"max":19.2,"min":16.0},{"depth":606.42,"max":16.5,"min":13.9},{"depth":608.08,"max":20.5,"min":17.1},{"depth":609.75,"max":21.8,"min":18.7},{"depth":611.42,"max":17.9,"min":15.2},{"depth":613.08,"max":16.5,"min":13.9},{"depth":614.75,"max":19.2,"min":16.0},{"depth":616.42,"max":17.9,"min":15.2},{"depth":618.08,"max":23.1,"min":19.2},{"depth":620.0,"max":24.4,"min":21.8}
  ],
  "ucs": [
    {"depth":490.15,"ucs":10.2,"ym":601700},{"depth":492.28,"ucs":11.0,"ym":593300},{"depth":494.76,"ucs":11.9,"ym":559400},{"depth":495.92,"ucs":13.6,"ym":644100},{"depth":496.91,"ucs":14.4,"ym":567800},{"depth":498.07,"ucs":12.7,"ym":610200},{"depth":500.55,"ucs":11.0,"ym":584800},{"depth":503.03,"ucs":11.9,"ym":559400},{"depth":505.5,"ucs":11.0,"ym":610200},{"depth":507.98,"ucs":11.9,"ym":542400},{"depth":509.8,"ucs":12.7,"ym":644100},{"depth":511.29,"ucs":11.9,"ym":593300},{"depth":513.77,"ucs":11.9,"ym":627200},{"depth":516.25,"ucs":13.6,"ym":576300},{"depth":518.73,"ucs":12.7,"ym":601700},{"depth":521.21,"ucs":13.6,"ym":644100},{"depth":523.69,"ucs":14.4,"ym":584800},{"depth":526.17,"ucs":13.6,"ym":610200},{"depth":528.64,"ucs":14.4,"ym":652600},{"depth":531.12,"ucs":13.6,"ym":601700},{"depth":533.6,"ucs":13.6,"ym":584800},{"depth":536.08,"ucs":12.7,"ym":644100},{"depth":538.56,"ucs":14.4,"ym":601700},{"depth":541.04,"ucs":13.6,"ym":627200},{"depth":543.52,"ucs":14.4,"ym":584800},{"depth":546.0,"ucs":14.4,"ym":644100},{"depth":548.48,"ucs":16.1,"ym":593300},{"depth":550.96,"ucs":17.0,"ym":627200},{"depth":552.61,"ucs":20.3,"ym":678000},{"depth":553.77,"ucs":22.0,"ym":711900},{"depth":555.09,"ucs":18.6,"ym":627200},{"depth":557.57,"ucs":15.3,"ym":593300},{"depth":560.05,"ucs":14.4,"ym":627200},{"depth":562.53,"ucs":13.6,"ym":584800},{"depth":565.83,"ucs":12.7,"ym":533900},{"depth":568.31,"ucs":13.6,"ym":610200},{"depth":570.79,"ucs":14.4,"ym":576300},{"depth":573.27,"ucs":13.6,"ym":593300},{"depth":575.75,"ucs":12.7,"ym":559400},{"depth":578.23,"ucs":14.4,"ym":601700},{"depth":580.71,"ucs":13.6,"ym":550900},{"depth":583.19,"ucs":13.6,"ym":584800},{"depth":585.67,"ucs":15.3,"ym":542400},{"depth":588.15,"ucs":14.4,"ym":576300},{"depth":590.63,"ucs":13.6,"ym":533900},{"depth":593.11,"ucs":14.4,"ym":584800},{"depth":595.59,"ucs":15.3,"ym":542400},{"depth":598.07,"ucs":14.4,"ym":593300},{"depth":600.55,"ucs":13.6,"ym":533900},{"depth":603.02,"ucs":14.4,"ym":567800},{"depth":605.5,"ucs":15.3,"ym":601700},{"depth":607.98,"ucs":14.4,"ym":542400},{"depth":610.46,"ucs":16.1,"ym":576300},{"depth":612.94,"ucs":15.3,"ym":542400},{"depth":615.42,"ucs":16.1,"ym":584800},{"depth":617.9,"ucs":15.3,"ym":559400},{"depth":620.15,"ucs":17.0,"ym":610200}
  ],
  "legendBoxes": [
    {"item":"褐色","r0":0,"r1":3,"swatch":"褐色"},
    {"item":"灰色","r0":0,"r1":3,"swatch":"灰色"},
    {"item":"棕色","r0":0,"r1":3,"swatch":"棕色"},
    {"item":"中砂岩","r0":2,"r1":3,"rm":2.5,"swatch":"白","sym":"-     ▾     -"},
    {"item":"中砂岩","r0":1,"r1":2,"rm":1.5,"swatch":"白","sym":"▾     ▾     ▾"},
    {"item":"中砂岩","r0":0,"r1":1,"rm":0.5,"swatch":"白","sym":"▴     ▸     ▸"},
    {"item":"细砂岩","r0":2,"r1":3,"rm":2.5,"swatch":"白","sym":"·    ·    ·    ·"},
    {"item":"细砂岩","r0":1,"r1":2,"rm":1.5,"swatch":"白","sym":"·    ·    ·    ·"},
    {"item":"细砂岩","r0":0,"r1":1,"rm":0.5,"swatch":"白","sym":"·    ·    ·    ·"},
    {"item":"粉砂岩","r0":2,"r1":3,"rm":2.5,"swatch":"白","sym":"··    ··    ··"},
    {"item":"粉砂岩","r0":1,"r1":2,"rm":1.5,"swatch":"白","sym":"··    ··    ··"},
    {"item":"粉砂岩","r0":0,"r1":1,"rm":0.5,"swatch":"白","sym":"··    ··    ··"},
    {"item":"泥质粉砂岩","r0":2,"r1":3,"rm":2.5,"swatch":"白","sym":"—    ··    ··"},
    {"item":"泥质粉砂岩","r0":1,"r1":2,"rm":1.5,"swatch":"白","sym":"··    ··    —"},
    {"item":"泥质粉砂岩","r0":0,"r1":1,"rm":0.5,"swatch":"白","sym":"—    ··    ··"},
    {"item":"灰质泥岩","r0":2,"r1":3,"rm":2.5,"swatch":"白","sym":"|    —    —"},
    {"item":"灰质泥岩","r0":1,"r1":2,"rm":1.5,"swatch":"白","sym":"—    —    |"},
    {"item":"灰质泥岩","r0":0,"r1":1,"rm":0.5,"swatch":"白","sym":"|    —    —"},
    {"item":"泥岩","r0":2,"r1":3,"rm":2.5,"swatch":"白","sym":"—    —"},
    {"item":"泥岩","r0":1,"r1":2,"rm":1.5,"swatch":"白","sym":"—   —   —"},
    {"item":"泥岩","r0":0,"r1":1,"rm":0.5,"swatch":"白","sym":"—    —"},
    {"item":"粉砂质粘土","r0":2,"r1":3,"rm":2.5,"swatch":"白","sym":"··   —   —"},
    {"item":"粉砂质粘土","r0":1,"r1":2,"rm":1.5,"swatch":"白","sym":"—   —   ··"},
    {"item":"粉砂质粘土","r0":0,"r1":1,"rm":0.5,"swatch":"白","sym":"··   —   —"}
  ]
},
"vconcat": [
  {
    "spacing": 0,
    "bounds": "flush",
    "hconcat": [
      {"width": 148, "height": 218.5, "layer": [
        {"data": {"name": "hdrText"}, "transform": [{"filter": "datum.col == 'gr'"}], "mark": {"type": "text", "clip": true}, "encoding": {"x": {"field": "x", "type": "quantitative", "scale": {"domain": [0, 100]}, "axis": null}, "y": {"field": "y", "type": "quantitative", "scale": {"domain": [0, 220], "reverse": true}, "axis": null}, "text": {"field": "text", "type": "nominal"}}},
        {"data": {"name": "hdrLines"}, "transform": [{"filter": "datum.col == 'gr'"}], "mark": {"type": "rule", "strokeWidth": 2, "clip": true}, "encoding": {"x": {"field": "x", "type": "quantitative", "scale": {"domain": [0, 100]}, "axis": null}, "x2": {"field": "x2"}, "y": {"field": "y", "type": "quantitative", "scale": {"domain": [0, 220], "reverse": true}, "axis": null}, "color": {"field": "curve", "type": "nominal", "legend": null, "scale": {"domain": ["GR","POR","PERM","COH","FRIC","PR","SHMAX","SHMIN","UCS","YM"], "range": ["#e4262b","#ee8a2d","#7a3d9e","#5ec8d3","#a8436f","#3a3db5","#f08a2b","#1f8a7c","#111111","#9d3f72"]}}, "strokeDash": {"field": "curve", "type": "nominal", "legend": null, "scale": {"domain": ["GR","POR","PERM","COH","FRIC","PR","SHMAX","SHMIN","UCS","YM"], "range": [[1,0],[1,0],[9,4,3,4],[1,0],[1,0],[1,0],[1,0],[1,0],[3,3],[1,0]]}}}}
      ]},
      {"width": 59, "height": 218.5, "data": {"name": "hdrText"}, "transform": [{"filter": "datum.col == 'dep'"}], "mark": {"type": "text", "clip": true}, "encoding": {"x": {"field": "x", "type": "quantitative", "scale": {"domain": [0, 100]}, "axis": null}, "y": {"field": "y", "type": "quantitative", "scale": {"domain": [0, 220], "reverse": true}, "axis": null}, "text": {"field": "text", "type": "nominal"}}},
      {"width": 60, "height": 218.5, "data": {"name": "hdrText"}, "transform": [{"filter": "datum.col == 'zone'"}], "mark": {"type": "text", "clip": true}, "encoding": {"x": {"field": "x", "type": "quantitative", "scale": {"domain": [0, 100]}, "axis": null}, "y": {"field": "y", "type": "quantitative", "scale": {"domain": [0, 220], "reverse": true}, "axis": null}, "text": {"field": "text", "type": "nominal"}}},
      {"width": 89, "height": 218.5, "data": {"name": "hdrText"}, "transform": [{"filter": "datum.col == 'lith'"}], "mark": {"type": "text", "clip": true}, "encoding": {"x": {"field": "x", "type": "quantitative", "scale": {"domain": [0, 100]}, "axis": null}, "y": {"field": "y", "type": "quantitative", "scale": {"domain": [0, 220], "reverse": true}, "axis": null}, "text": {"field": "text", "type": "nominal"}}},
      {"width": 175, "height": 218.5, "layer": [
        {"data": {"name": "hdrText"}, "transform": [{"filter": "datum.col == 'por'"}], "mark": {"type": "text", "clip": true}, "encoding": {"x": {"field": "x", "type": "quantitative", "scale": {"domain": [0, 100]}, "axis": null}, "y": {"field": "y", "type": "quantitative", "scale": {"domain": [0, 220], "reverse": true}, "axis": null}, "text": {"field": "text", "type": "nominal"}}},
        {"data": {"name": "hdrDiv"}, "transform": [{"filter": "datum.col == 'por'"}], "mark": {"type": "rule", "color": "#111111", "strokeWidth": 1.5}, "encoding": {"y": {"field": "y", "type": "quantitative", "scale": {"domain": [0, 220], "reverse": true}, "axis": null}}},
        {"data": {"name": "hdrLines"}, "transform": [{"filter": "datum.col == 'por'"}], "mark": {"type": "rule", "strokeWidth": 2.4, "clip": true}, "encoding": {"x": {"field": "x", "type": "quantitative", "scale": {"domain": [0, 100]}, "axis": null}, "x2": {"field": "x2"}, "y": {"field": "y", "type": "quantitative", "scale": {"domain": [0, 220], "reverse": true}, "axis": null}, "color": {"field": "curve", "type": "nominal", "legend": null, "scale": {"domain": ["GR","POR","PERM","COH","FRIC","PR","SHMAX","SHMIN","UCS","YM"], "range": ["#e4262b","#ee8a2d","#7a3d9e","#5ec8d3","#a8436f","#3a3db5","#f08a2b","#1f8a7c","#111111","#9d3f72"]}}, "strokeDash": {"field": "curve", "type": "nominal", "legend": null, "scale": {"domain": ["GR","POR","PERM","COH","FRIC","PR","SHMAX","SHMIN","UCS","YM"], "range": [[1,0],[1,0],[9,4,3,4],[1,0],[1,0],[1,0],[1,0],[1,0],[3,3],[1,0]]}}}}
      ]},
      {"width": 118, "height": 218.5, "layer": [
        {"data": {"name": "hdrText"}, "transform": [{"filter": "datum.col == 'coh'"}], "mark": {"type": "text", "clip": true}, "encoding": {"x": {"field": "x", "type": "quantitative", "scale": {"domain": [0, 100]}, "axis": null}, "y": {"field": "y", "type": "quantitative", "scale": {"domain": [0, 220], "reverse": true}, "axis": null}, "text": {"field": "text", "type": "nominal"}}},
        {"data": {"name": "hdrDiv"}, "transform": [{"filter": "datum.col == 'coh'"}], "mark": {"type": "rule", "color": "#111111", "strokeWidth": 1.5}, "encoding": {"y": {"field": "y", "type": "quantitative", "scale": {"domain": [0, 220], "reverse": true}, "axis": null}}},
        {"data": {"name": "hdrLines"}, "transform": [{"filter": "datum.col == 'coh'"}], "mark": {"type": "rule", "strokeWidth": 2, "clip": true}, "encoding": {"x": {"field": "x", "type": "quantitative", "scale": {"domain": [0, 100]}, "axis": null}, "x2": {"field": "x2"}, "y": {"field": "y", "type": "quantitative", "scale": {"domain": [0, 220], "reverse": true}, "axis": null}, "color": {"field": "curve", "type": "nominal", "legend": null, "scale": {"domain": ["GR","POR","PERM","COH","FRIC","PR","SHMAX","SHMIN","UCS","YM"], "range": ["#e4262b","#ee8a2d","#7a3d9e","#5ec8d3","#a8436f","#3a3db5","#f08a2b","#1f8a7c","#111111","#9d3f72"]}}, "strokeDash": {"field": "curve", "type": "nominal", "legend": null, "scale": {"domain": ["GR","POR","PERM","COH","FRIC","PR","SHMAX","SHMIN","UCS","YM"], "range": [[1,0],[1,0],[9,4,3,4],[1,0],[1,0],[1,0],[1,0],[1,0],[3,3],[1,0]]}}}}
      ]},
      {"width": 127, "height": 218.5, "layer": [
        {"data": {"name": "hdrText"}, "transform": [{"filter": "datum.col == 'str'"}], "mark": {"type": "text", "clip": true}, "encoding": {"x": {"field": "x", "type": "quantitative", "scale": {"domain": [0, 100]}, "axis": null}, "y": {"field": "y", "type": "quantitative", "scale": {"domain": [0, 220], "reverse": true}, "axis": null}, "text": {"field": "text", "type": "nominal"}}},
        {"data": {"name": "hdrDiv"}, "transform": [{"filter": "datum.col == 'str'"}], "mark": {"type": "rule", "color": "#111111", "strokeWidth": 1.5}, "encoding": {"y": {"field": "y", "type": "quantitative", "scale": {"domain": [0, 220], "reverse": true}, "axis": null}}},
        {"data": {"name": "hdrLines"}, "transform": [{"filter": "datum.col == 'str'"}], "mark": {"type": "rule", "strokeWidth": 2, "clip": true}, "encoding": {"x": {"field": "x", "type": "quantitative", "scale": {"domain": [0, 100]}, "axis": null}, "x2": {"field": "x2"}, "y": {"field": "y", "type": "quantitative", "scale": {"domain": [0, 220], "reverse": true}, "axis": null}, "color": {"field": "curve", "type": "nominal", "legend": null, "scale": {"domain": ["GR","POR","PERM","COH","FRIC","PR","SHMAX","SHMIN","UCS","YM"], "range": ["#e4262b","#ee8a2d","#7a3d9e","#5ec8d3","#a8436f","#3a3db5","#f08a2b","#1f8a7c","#111111","#9d3f72"]}}, "strokeDash": {"field": "curve", "type": "nominal", "legend": null, "scale": {"domain": ["GR","POR","PERM","COH","FRIC","PR","SHMAX","SHMIN","UCS","YM"], "range": [[1,0],[1,0],[9,4,3,4],[1,0],[1,0],[1,0],[1,0],[1,0],[3,3],[1,0]]}}}}
      ]},
      {"width": 107, "height": 218.5, "view": {"stroke": null}, "layer": [
        {"data": {"name": "hdrText"}, "transform": [{"filter": "datum.col == 'ucs'"}], "mark": {"type": "text", "clip": true}, "encoding": {"x": {"field": "x", "type": "quantitative", "scale": {"domain": [0, 100]}, "axis": null}, "y": {"field": "y", "type": "quantitative", "scale": {"domain": [0, 220], "reverse": true}, "axis": null}, "text": {"field": "text", "type": "nominal"}}},
        {"data": {"name": "hdrDiv"}, "transform": [{"filter": "datum.col == 'ucs'"}], "mark": {"type": "rule", "color": "#111111", "strokeWidth": 1.5}, "encoding": {"y": {"field": "y", "type": "quantitative", "scale": {"domain": [0, 220], "reverse": true}, "axis": null}}},
        {"data": {"name": "hdrLines"}, "transform": [{"filter": "datum.col == 'ucs'"}], "mark": {"type": "rule", "strokeWidth": 2, "clip": true}, "encoding": {"x": {"field": "x", "type": "quantitative", "scale": {"domain": [0, 100]}, "axis": null}, "x2": {"field": "x2"}, "y": {"field": "y", "type": "quantitative", "scale": {"domain": [0, 220], "reverse": true}, "axis": null}, "color": {"field": "curve", "type": "nominal", "legend": null, "scale": {"domain": ["GR","POR","PERM","COH","FRIC","PR","SHMAX","SHMIN","UCS","YM"], "range": ["#e4262b","#ee8a2d","#7a3d9e","#5ec8d3","#a8436f","#3a3db5","#f08a2b","#1f8a7c","#111111","#9d3f72"]}}, "strokeDash": {"field": "curve", "type": "nominal", "legend": null, "scale": {"domain": ["GR","POR","PERM","COH","FRIC","PR","SHMAX","SHMIN","UCS","YM"], "range": [[1,0],[1,0],[9,4,3,4],[1,0],[1,0],[1,0],[1,0],[1,0],[3,3],[1,0]]}}}}
      ]}
    ]
  },
  {
    "spacing": 0,
    "bounds": "flush",
    "hconcat": [
      {"width": 148, "height": 787, "data": {"name": "gr"}, "mark": {"type": "line", "color": "#e4262b", "strokeWidth": 1.6, "clip": true}, "encoding": {
        "x": {"field": "value", "type": "quantitative", "scale": {"domain": [20, 220], "nice": false, "zero": false}, "axis": {"values": [60, 100, 140, 180], "title": null}},
        "y": {"field": "depth", "type": "quantitative", "scale": {"domain": [490.1, 620.2], "reverse": true, "nice": false, "zero": false}, "axis": {"values": [500,510,520,530,540,550,560,570,580,590,600,610,620], "title": null}},
        "order": {"field": "depth", "type": "quantitative"}}},
      {"width": 59, "height": 787, "layer": [
        {"data": {"name": "depthTicks"}, "mark": {"type": "tick", "orient": "horizontal", "size": 8, "thickness": 1, "color": "#444444"}, "encoding": {"y": {"field": "depth", "type": "quantitative", "scale": {"domain": [490.1, 620.2], "reverse": true, "nice": false, "zero": false}, "axis": null}, "x": {"datum": 0.93, "type": "quantitative", "scale": {"domain": [0, 1]}, "axis": null}}},
        {"data": {"name": "depthLabels"}, "mark": {"type": "tick", "orient": "horizontal", "size": 14, "thickness": 1, "color": "#444444"}, "encoding": {"y": {"field": "depth", "type": "quantitative", "scale": {"domain": [490.1, 620.2], "reverse": true, "nice": false, "zero": false}, "axis": null}, "x": {"datum": 0.88, "type": "quantitative", "scale": {"domain": [0, 1]}, "axis": null}}},
        {"data": {"name": "depthLabels"}, "mark": {"type": "text", "align": "left", "baseline": "middle", "fontSize": 18}, "encoding": {"y": {"field": "depth", "type": "quantitative", "scale": {"domain": [490.1, 620.2], "reverse": true, "nice": false, "zero": false}, "axis": null}, "x": {"datum": 0.03, "type": "quantitative", "scale": {"domain": [0, 1]}, "axis": null}, "text": {"field": "label", "type": "nominal"}}}
      ]},
      {"width": 60, "height": 787, "data": {"name": "formation"}, "mark": {"type": "text", "fontSize": 17, "lineBreak": "\n", "lineHeight": 36.8, "baseline": "middle"}, "encoding": {
        "y": {"datum": 515.1, "type": "quantitative", "scale": {"domain": [490.1, 620.2], "reverse": true, "nice": false, "zero": false}, "axis": null},
        "x": {"datum": 0.475, "type": "quantitative", "scale": {"domain": [0, 1]}, "axis": null},
        "text": {"field": "name", "type": "nominal"}}},
      {"width": 89, "height": 787, "data": {"name": "lith"}, "transform": [{"lookup": "lith", "from": {"data": {"name": "lithTypes"}, "key": "lith", "fields": ["grain", "sym"]}}], "layer": [
        {"mark": {"type": "bar", "orient": "horizontal", "stroke": "#3a3a3a", "strokeWidth": 1}, "encoding": {
          "y": {"field": "top", "type": "quantitative", "scale": {"domain": [490.1, 620.2], "reverse": true, "nice": false, "zero": false}, "axis": null},
          "y2": {"field": "bottom"},
          "x": {"field": "grain", "type": "quantitative", "scale": {"domain": [0, 8.9], "nice": false, "zero": true}, "axis": null},
          "color": {"field": "color", "type": "nominal", "legend": null, "scale": {"domain": ["褐色","灰色","棕色"], "range": ["#a66a2b","#a7a7a7","#85282a"]}}}},
        {"mark": {"type": "text", "align": "right", "baseline": "middle", "dx": -6, "fontSize": 9, "fontWeight": "bold", "color": "#2a2a2a", "font": "DejaVu Sans"}, "encoding": {
          "y": {"field": "mid", "type": "quantitative", "scale": {"domain": [490.1, 620.2], "reverse": true, "nice": false, "zero": false}, "axis": null},
          "x": {"field": "grain", "type": "quantitative", "scale": {"domain": [0, 8.9], "nice": false, "zero": true}, "axis": null},
          "text": {"field": "sym", "type": "nominal"}}}
      ]},
      {"width": 175, "height": 787, "resolve": {"scale": {"x": "independent"}, "axis": {"x": "independent"}}, "layer": [
        {"data": {"name": "por"}, "mark": {"type": "line", "color": "#ee8a2d", "strokeWidth": 1.8, "clip": true}, "encoding": {
          "x": {"field": "value", "type": "quantitative", "scale": {"domain": [0, 100], "nice": false}, "axis": {"values": [10,20,30,40,50,60,70,80,90], "title": null}},
          "y": {"field": "depth", "type": "quantitative", "scale": {"domain": [490.1, 620.2], "reverse": true, "nice": false, "zero": false}, "axis": {"values": [500,510,520,530,540,550,560,570,580,590,600,610,620], "title": null}},
          "order": {"field": "depth", "type": "quantitative"}}},
        {"data": {"name": "perm"}, "mark": {"type": "line", "color": "#7a3d9e", "strokeWidth": 2, "strokeDash": [9, 4, 3, 4], "clip": true}, "encoding": {
          "x": {"field": "value", "type": "quantitative", "scale": {"domain": [0, 1000], "nice": false}, "axis": null},
          "y": {"field": "depth", "type": "quantitative", "scale": {"domain": [490.1, 620.2], "reverse": true, "nice": false, "zero": false}, "axis": {"values": [500,510,520,530,540,550,560,570,580,590,600,610,620], "title": null}},
          "order": {"field": "depth", "type": "quantitative"}}}
      ]},
      {"width": 118, "height": 787, "resolve": {"scale": {"x": "independent"}, "axis": {"x": "independent"}}, "layer": [
        {"data": {"name": "coh"}, "mark": {"type": "line", "color": "#5ec8d3", "strokeWidth": 1.8, "clip": true}, "encoding": {
          "x": {"field": "value", "type": "quantitative", "scale": {"domain": [0, 80], "nice": false}, "axis": {"values": [8,16,24,32,40,48,56,64,72], "title": null}},
          "y": {"field": "depth", "type": "quantitative", "scale": {"domain": [490.1, 620.2], "reverse": true, "nice": false, "zero": false}, "axis": {"values": [500,510,520,530,540,550,560,570,580,590,600,610,620], "title": null}},
          "order": {"field": "depth", "type": "quantitative"}}},
        {"data": {"name": "fric"}, "mark": {"type": "line", "color": "#a8436f", "strokeWidth": 1.5, "clip": true}, "encoding": {
          "x": {"field": "value", "type": "quantitative", "scale": {"domain": [0, 50], "nice": false}, "axis": null},
          "y": {"field": "depth", "type": "quantitative", "scale": {"domain": [490.1, 620.2], "reverse": true, "nice": false, "zero": false}, "axis": {"values": [500,510,520,530,540,550,560,570,580,590,600,610,620], "title": null}},
          "order": {"field": "depth", "type": "quantitative"}}},
        {"data": {"name": "pr"}, "mark": {"type": "line", "color": "#3a3db5", "strokeWidth": 1.7, "clip": true}, "encoding": {
          "x": {"field": "value", "type": "quantitative", "scale": {"type": "log", "domain": [0.01, 1], "nice": false}, "axis": null},
          "y": {"field": "depth", "type": "quantitative", "scale": {"domain": [490.1, 620.2], "reverse": true, "nice": false, "zero": false}, "axis": {"values": [500,510,520,530,540,550,560,570,580,590,600,610,620], "title": null}},
          "order": {"field": "depth", "type": "quantitative"}}}
      ]},
      {"width": 127, "height": 787, "data": {"name": "stress"}, "layer": [
        {"mark": {"type": "line", "color": "#f08a2b", "strokeWidth": 1.7, "clip": true}, "encoding": {
          "x": {"field": "max", "type": "quantitative", "scale": {"domain": [0, 100], "nice": false}, "axis": {"values": [10,20,30,40,50,60,70,80,90], "title": null}},
          "y": {"field": "depth", "type": "quantitative", "scale": {"domain": [490.1, 620.2], "reverse": true, "nice": false, "zero": false}, "axis": {"values": [500,510,520,530,540,550,560,570,580,590,600,610,620], "title": null}},
          "order": {"field": "depth", "type": "quantitative"}}},
        {"mark": {"type": "line", "color": "#1f8a7c", "strokeWidth": 1.7, "clip": true}, "encoding": {
          "x": {"field": "min", "type": "quantitative", "scale": {"domain": [0, 100], "nice": false}, "axis": {"values": [10,20,30,40,50,60,70,80,90], "title": null}},
          "y": {"field": "depth", "type": "quantitative", "scale": {"domain": [490.1, 620.2], "reverse": true, "nice": false, "zero": false}, "axis": {"values": [500,510,520,530,540,550,560,570,580,590,600,610,620], "title": null}},
          "order": {"field": "depth", "type": "quantitative"}}}
      ]},
      {"width": 107, "height": 787, "view": {"stroke": null}, "data": {"name": "ucs"}, "resolve": {"scale": {"x": "independent"}, "axis": {"x": "independent"}}, "layer": [
        {"mark": {"type": "line", "color": "#111111", "strokeWidth": 2.2, "strokeDash": [2, 3], "clip": true}, "encoding": {
          "x": {"field": "ucs", "type": "quantitative", "scale": {"domain": [0, 90.7], "nice": false}, "axis": {"values": [10,20,30,40,50,60,70,80,90], "title": null}},
          "y": {"field": "depth", "type": "quantitative", "scale": {"domain": [490.1, 620.2], "reverse": true, "nice": false, "zero": false}, "axis": {"values": [500,510,520,530,540,550,560,570,580,590,600,610,620], "title": null}},
          "order": {"field": "depth", "type": "quantitative"}}},
        {"mark": {"type": "line", "color": "#9d3f72", "strokeWidth": 1.6, "clip": true}, "encoding": {
          "x": {"field": "ym", "type": "quantitative", "scale": {"domain": [0, 906800], "nice": false}, "axis": null},
          "y": {"field": "depth", "type": "quantitative", "scale": {"domain": [490.1, 620.2], "reverse": true, "nice": false, "zero": false}, "axis": {"values": [500,510,520,530,540,550,560,570,580,590,600,610,620], "title": null}},
          "order": {"field": "depth", "type": "quantitative"}}},
        {"mark": {"type": "rule", "color": "#111111", "strokeWidth": 1.5}, "encoding": {
          "y": {"datum": 620.2, "type": "quantitative", "scale": {"domain": [490.1, 620.2], "reverse": true, "nice": false, "zero": false}, "axis": {"values": [500,510,520,530,540,550,560,570,580,590,600,610,620], "title": null}}}}
      ]}
    ]
  },
  {
    "width": 884, "height": 36, "view": {"stroke": null},
    "data": {"name": "legendBoxes"},
    "layer": [
      {"mark": {"type": "rect", "stroke": "#333333", "strokeWidth": 1.2}, "encoding": {
        "x": {"field": "item", "type": "nominal", "sort": null, "scale": {"domain": ["褐色","灰色","棕色","中砂岩","细砂岩","粉砂岩","泥质粉砂岩","灰质泥岩","泥岩","粉砂质粘土"], "paddingInner": 0.267, "paddingOuter": 0.358, "align": 0.561, "round": false}, "axis": {"title": null, "orient": "bottom", "labels": true, "grid": false, "ticks": false, "domain": false, "labelAngle": 0, "labelFontSize": 16, "labelPadding": 6, "labelFont": "Noto Sans CJK SC", "labelColor": "#222222"}},
        "y": {"field": "r0", "type": "quantitative", "scale": {"domain": [0, 4.5], "nice": false}, "axis": null},
        "y2": {"field": "r1"},
        "color": {"field": "swatch", "type": "nominal", "legend": null, "scale": {"domain": ["褐色","灰色","棕色","白"], "range": ["#a66a2b","#a7a7a7","#85282a","#ffffff"]}}}},
      {"transform": [{"filter": "datum.sym != null"}], "mark": {"type": "text", "fontSize": 7, "fontWeight": "bold", "color": "#333333", "baseline": "middle", "font": "DejaVu Sans"}, "encoding": {
        "x": {"field": "item", "type": "nominal", "sort": null, "scale": {"domain": ["褐色","灰色","棕色","中砂岩","细砂岩","粉砂岩","泥质粉砂岩","灰质泥岩","泥岩","粉砂质粘土"], "paddingInner": 0.267, "paddingOuter": 0.358, "align": 0.561, "round": false}, "axis": {"title": null, "orient": "bottom", "labels": true, "grid": false, "ticks": false, "domain": false, "labelAngle": 0, "labelFontSize": 16, "labelPadding": 6, "labelFont": "Noto Sans CJK SC", "labelColor": "#222222"}},
        "y": {"field": "rm", "type": "quantitative", "scale": {"domain": [0, 4.5], "nice": false}, "axis": null},
        "text": {"field": "sym", "type": "nominal"}}}
    ]
  }
]
}
